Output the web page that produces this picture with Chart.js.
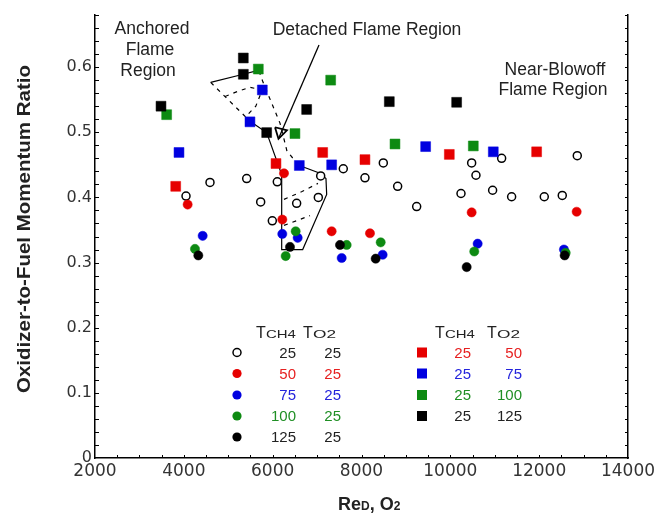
<!DOCTYPE html>
<html>
<head>
<meta charset="utf-8">
<script src="https://cdn.jsdelivr.net/npm/chart.js@4/dist/chart.umd.min.js"></script>
<style>
  html, body { margin: 0; padding: 0; background: #fff; }
  #wrap { width: 659px; height: 515px; }
</style>
</head>
<body>
<div id="wrap"><canvas id="chart" width="659" height="515"></canvas></div>
<script>
const xTickVals = [2000, 4000, 6000, 8000, 10000, 12000, 14000];
const yTickVals = [0, 0.1, 0.2, 0.3, 0.4, 0.5, 0.6];

// circles: T_O2 = 25, T_CH4 = 25 / 50 / 75 / 100 / 125
const circ25 = [[4049,0.402],[4589,0.423],[5415,0.429],[5730,0.393],[5992,0.364],[6104,0.424],
  [6540,0.391],[7028,0.400],[7081,0.433],[7590,0.444],[8078,0.430],[8491,0.453],[8814,0.417],
  [9242,0.386],[10240,0.406],[10480,0.453],[10577,0.434],[10952,0.411],[11155,0.460],
  [11380,0.401],[12115,0.401],[12520,0.403],[12858,0.464]];
const circ50 = [[4086,0.389],[6255,0.437],[6217,0.366],[7328,0.348],[8191,0.345],[10480,0.377],[12844,0.378]];
const circ75 = [[4424,0.341],[6217,0.344],[6563,0.338],[7554,0.307],[8476,0.312],[10615,0.329],[12558,0.320]];
const circ100 = [[4251,0.321],[6293,0.310],[6518,0.348],[7666,0.327],[8432,0.331],[10539,0.317],[12597,0.315]];
const circ125 = [[4326,0.311],[6390,0.324],[7516,0.327],[8319,0.306],[10368,0.293],[12574,0.311]];

// squares: T_CH4 = 25, T_O2 = 50 / 75 / 100 / 125
const sq50 = [[3817,0.417],[6075,0.452],[7126,0.469],[8078,0.458],[9977,0.466],[11943,0.470]];
const sq75 = [[3891,0.469],[5489,0.516],[5767,0.565],[6600,0.449],[7328,0.450],[9444,0.478],[10967,0.470]];
const sq100 = [[3613,0.527],[5677,0.597],[6502,0.498],[7306,0.580],[8754,0.482],[10517,0.479]];
const sq125 = [[3486,0.540],[5339,0.614],[5340,0.589],[5865,0.4995],[6765,0.535],[8626,0.547],[10142,0.546]];

// detached flame region outlines
const solidUpper = [[4605,0.5765],[5339,0.589],[5676,0.595]];
const solidLower = [[5489,0.517],[5865,0.4995],[6203,0.435],[6203,0.320],[6676,0.320],
  [7216,0.4046],[7200,0.429],[7065,0.437],[6600,0.449]];
const dashTip = [[4605,0.5765],[5489,0.517]];
const dashInner = [[4927,0.555],[5219,0.563],[5489,0.569],[5767,0.565],[5620,0.540],[5450,0.528]];
const dashRight = [[5692,0.594],[5782,0.577],[6165,0.514],[6322,0.471],[6593,0.449]];
const dashLow1 = [[6255,0.397],[6660,0.409],[7020,0.4215]];
const dashLow2 = [[6255,0.357],[6840,0.372]];
const arrowShaft = [[7043,0.634],[6131,0.490]];
const arrowHead = [[6052,0.5077],[6131,0.490],[6322,0.503],[6052,0.5077]];

const RED = "#e60000", BLUE = "#0000e0", GREEN = "#0d8a12", BLACK = "#000";

function pts(a) { return a.map(p => ({ x: p[0], y: p[1] })); }

function markers(arr, style, color, order) {
  const isOpen = color === null;
  return {
    data: pts(arr), showLine: false, order: order,
    pointStyle: style,
    pointRadius: style === "rect" ? 7 : (isOpen ? 4 : 4.6),
    pointBackgroundColor: isOpen ? "#fff" : color,
    pointBorderColor: isOpen ? "#000" : color,
    pointBorderWidth: isOpen ? 1.5 : 0.5
  };
}
function path(arr, dashed, width) {
  return {
    data: pts(arr), showLine: true, order: 20, pointRadius: 0,
    borderColor: "#000", borderWidth: width || 1.2, borderDash: dashed ? [4, 5] : [],
    fill: false, tension: 0
  };
}

function txt(ctx, s, x, y, font, color, align, sx) {
  ctx.save();
  ctx.font = font;
  ctx.fillStyle = color;
  ctx.textBaseline = "alphabetic";
  ctx.textAlign = align || "left";
  ctx.translate(x, y);
  ctx.scale(sx || 1, 1);
  ctx.fillText(s, 0, 0);
  ctx.restore();
}

function header(ctx, x1, x2, y) {
  txt(ctx, "T", x1, y, "16px 'Liberation Sans'", "#222");
  txt(ctx, "CH4", x1 + 10, y, "11.5px 'Liberation Sans'", "#222", "left", 1.3);
  txt(ctx, "T", x2, y, "16px 'Liberation Sans'", "#222");
  txt(ctx, "O2", x2 + 10, y, "11.5px 'Liberation Sans'", "#222", "left", 1.5);
}

const decor = {
  id: "decor",
  afterDraw(chart) {
    const ctx = chart.ctx, a = chart.chartArea;
    const xs = chart.scales.x, ys = chart.scales.y;
    ctx.save();
    ctx.strokeStyle = "#000";
    ctx.lineWidth = 1;
    ctx.beginPath();
    for (let v = 0.02; v < 0.681; v += 0.02) {
      const py = Math.round(ys.getPixelForValue(v)) + 0.5;
      ctx.moveTo(a.left, py); ctx.lineTo(a.left + 4, py);
      ctx.moveTo(a.right, py); ctx.lineTo(a.right - 3, py);
    }
    for (let v = 2500; v < 14000; v += 500) {
      const px = Math.round(xs.getPixelForValue(v)) + 0.5;
      ctx.moveTo(px, a.bottom); ctx.lineTo(px, a.bottom - 3);
    }
    ctx.stroke();
    ctx.restore();

    // region labels
    const f = "17.5px 'Liberation Sans'", c = "#222";
    txt(ctx, "Anchored", 152, 34, f, c, "center");
    txt(ctx, "Flame", 150, 55, f, c, "center");
    txt(ctx, "Region", 148, 75.5, f, c, "center");
    txt(ctx, "Detached Flame Region", 367, 35, f, c, "center");
    txt(ctx, "Near-Blowoff", 555, 75, f, c, "center");
    txt(ctx, "Flame Region", 553, 95, f, c, "center");

    // left legend (circles)
    header(ctx, 256, 303, 338);
    const rowsY = [352.5, 373.5, 395, 416, 437];
    const leftRows = [["25", "25", null], ["50", "25", RED], ["75", "25", BLUE], ["100", "25", GREEN], ["125", "25", BLACK]];
    const txtCol = { [RED]: "#e62020", [BLUE]: "#2424dc", [GREEN]: "#1f8f24", [BLACK]: "#222" };
    const nf = "15px 'Liberation Sans'";
    leftRows.forEach((r, i) => {
      const y = rowsY[i];
      ctx.beginPath();
      ctx.arc(237, y, r[2] ? 4.6 : 4, 0, Math.PI * 2);
      if (r[2]) { ctx.fillStyle = r[2]; ctx.fill(); }
      else { ctx.fillStyle = "#fff"; ctx.fill(); ctx.lineWidth = 1.5; ctx.strokeStyle = "#000"; ctx.stroke(); }
      const tc = r[2] ? txtCol[r[2]] : "#222";
      txt(ctx, r[0], 296, y + 5.4, nf, tc, "right");
      txt(ctx, r[1], 341, y + 5.4, nf, tc, "right");
    });

    // right legend (squares)
    header(ctx, 435, 487, 338);
    const rightRows = [["25", "50", RED], ["25", "75", BLUE], ["25", "100", GREEN], ["25", "125", BLACK]];
    rightRows.forEach((r, i) => {
      const y = rowsY[i];
      ctx.fillStyle = r[2];
      ctx.fillRect(417, y - 5, 10, 10);
      txt(ctx, r[0], 471, y + 5.4, nf, txtCol[r[2]], "right");
      txt(ctx, r[1], 522, y + 5.4, nf, txtCol[r[2]], "right");
    });

    // axis titles
    ctx.save();
    ctx.font = "bold 19px 'Liberation Sans'";
    const title = "Oxidizer-to-Fuel Momentum Ratio";
    const w = ctx.measureText(title).width;
    ctx.translate(30, 229);
    ctx.rotate(-Math.PI / 2);
    ctx.scale(328 / w, 1);
    ctx.fillStyle = "#222";
    ctx.textAlign = "center";
    ctx.textBaseline = "alphabetic";
    ctx.fillText(title, 0, 0);
    ctx.restore();

    const big = "bold 18px 'Liberation Sans'", small = "bold 12px 'Liberation Sans'";
    let x = 338;
    const parts = [["Re", big], ["D", small], [", O", big], ["2", small]];
    parts.forEach(p => {
      ctx.font = p[1];
      txt(ctx, p[0], x, 510, p[1], "#222");
      x += ctx.measureText(p[0]).width;
    });
  }
};

new Chart(document.getElementById("chart"), {
  type: "scatter",
  data: {
    datasets: [
      markers(circ25, "circle", null, 9),
      markers(circ50, "circle", RED, 8),
      markers(circ75, "circle", BLUE, 7),
      markers(circ100, "circle", GREEN, 6),
      markers(circ125, "circle", BLACK, 5),
      markers(sq50, "rect", RED, 4),
      markers(sq75, "rect", BLUE, 3),
      markers(sq100, "rect", GREEN, 2),
      markers(sq125, "rect", BLACK, 1),
      path(solidUpper, false),
      path(solidLower, false),
      path(dashTip, true),
      path(dashInner, true),
      path(dashRight, true),
      path(dashLow1, true),
      path(dashLow2, true),
      path(arrowShaft, false, 1.3),
      path(arrowHead, false, 1.8)
    ]
  },
  options: {
    responsive: false,
    animation: false,
    devicePixelRatio: 1,
    events: [],
    layout: { padding: { top: 15, right: 31, left: 0, bottom: 0 } },
    plugins: { legend: { display: false }, tooltip: { enabled: false } },
    scales: {
      x: {
        type: "linear", position: "bottom", min: 2000, max: 14000,
        afterBuildTicks: s => { s.ticks = xTickVals.map(v => ({ value: v })); },
        afterFit: s => { s.height = 57; },
        grid: { display: false, drawTicks: false },
        border: { display: true, color: "#000", width: 1.5 },
        ticks: { padding: 3, color: "#333", font: { family: "DejaVu Sans", size: 17 }, maxRotation: 0, autoSkip: false,
          callback: v => String(v) }
      },
      y: {
        type: "linear", position: "left", min: 0, max: 0.68,
        afterBuildTicks: s => { s.ticks = yTickVals.map(v => ({ value: v })); },
        afterFit: s => { s.width = 95; },
        grid: { display: false, drawTicks: false },
        border: { display: true, color: "#000", width: 1.5 },
        ticks: { padding: 3, color: "#333", font: { family: "DejaVu Sans", size: 16 },
          callback: v => (v === 0 ? "0" : v.toFixed(1)) }
      },
      y2: {
        type: "linear", position: "right", min: 0, max: 0.68,
        afterFit: s => { s.width = 0; },
        grid: { display: false, drawTicks: false },
        border: { display: true, color: "#000", width: 1.5 },
        ticks: { display: false }
      }
    }
  },
  plugins: [decor]
});
</script>
</body>
</html>
